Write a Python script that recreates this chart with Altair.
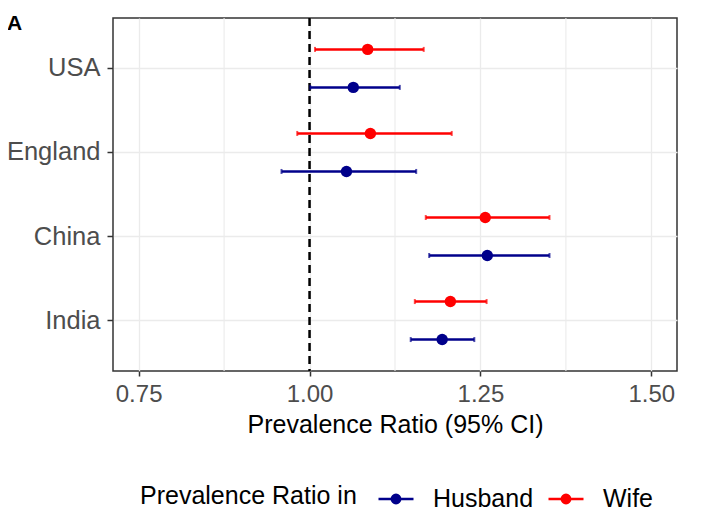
import altair as alt
import pandas as pd

countries = ["USA", "England", "China", "India"]
groups = ["Husband", "Wife"]
wife_pr = [1.085, 1.089, 1.257, 1.206]
wife_lo = [1.008, 0.982, 1.170, 1.154]
wife_hi = [1.167, 1.208, 1.351, 1.259]
husband_pr = [1.064, 1.054, 1.260, 1.194]
husband_lo = [1.001, 0.959, 1.175, 1.148]
husband_hi = [1.132, 1.156, 1.351, 1.241]
x_ticks = [0.75, 1.00, 1.25, 1.50]
minor_breaks = [0.875, 1.125, 1.375]
reference = [1.0]

rows = []
for i, c in enumerate(countries):
    rows.append(dict(country=c, group="Wife", pr=wife_pr[i], lo=wife_lo[i], hi=wife_hi[i]))
    rows.append(dict(country=c, group="Husband", pr=husband_pr[i], lo=husband_lo[i], hi=husband_hi[i]))
df = pd.DataFrame(rows)
minor_df = pd.DataFrame({"x": minor_breaks})
ref_df = pd.DataFrame({"x": reference})

FONT = "Liberation Sans"
COLORS = ["#00008B", "#FF0000"]
xscale = alt.Scale(domain=[0.7125, 1.5375], nice=False, zero=False)
yscale = alt.Scale(domain=countries, paddingInner=0, paddingOuter=0.1)
offscale = alt.Scale(type="point", domain=["Wife", "Husband"], range=[23, 61], padding=0)

xaxis = alt.Axis(values=x_ticks, format=".2f", title="Prevalence Ratio (95% CI)",
                 grid=True, titlePadding=6, labelPadding=6)
yaxis = alt.Axis(title=None, grid=True, bandPosition=0.5, labelPadding=7,
                 labelFontSize=25.5, tickSize=6)

x_enc = alt.X("pr:Q", scale=xscale, axis=xaxis)
y_enc = alt.Y("country:N", scale=yscale, axis=yaxis, sort=countries)
yoff = alt.YOffset("group:N", scale=offscale)
fill_enc = alt.Fill("group:N", scale=alt.Scale(domain=groups, range=COLORS), legend=None)

minor = alt.Chart(minor_df).mark_rule(color="#EBEBEB", strokeWidth=1.1).encode(
    x=alt.X("x:Q", scale=xscale, axis=xaxis)
)
ref = alt.Chart(ref_df).mark_rule(color="black", strokeWidth=2.5, strokeDash=[8, 5]).encode(
    x=alt.X("x:Q", scale=xscale, axis=xaxis)
)

# legend symbol: a line with a dot made of concentric stroked rings
legend_path = ("M-1,0L1,0"
               "M0.24,0A0.24,0.24,0,1,1,-0.24,0A0.24,0.24,0,1,1,0.24,0"
               "M0.16,0A0.16,0.16,0,1,1,-0.16,0A0.16,0.16,0,1,1,0.16,0"
               "M0.09,0A0.09,0.09,0,1,1,-0.09,0A0.09,0.09,0,1,1,0.09,0"
               "M0.03,0A0.03,0.03,0,1,1,-0.03,0A0.03,0.03,0,1,1,0.03,0")
leg = alt.Legend(
    title="Prevalence Ratio in", orient="none", legendX=27, legendY=462,
    direction="horizontal", titleOrient="left", titleLimit=400,
    titleAnchor="middle", titleBaseline="middle",
    titleFontSize=25, titleFontWeight="normal", titleColor="black", titleFont=FONT,
    labelFontSize=25, labelColor="black", labelFont=FONT,
    symbolType=legend_path, symbolSize=1225, symbolStrokeWidth=2.5,
    titlePadding=20, labelOffset=18, columnPadding=9,
)

base = alt.Chart(df)
bars = base.mark_rule(strokeWidth=2.5).encode(
    x=alt.X("lo:Q", scale=xscale, axis=xaxis),
    x2="hi:Q",
    y=y_enc, yOffset=yoff,
    color=alt.Color("group:N", scale=alt.Scale(domain=groups, range=COLORS), legend=leg),
)
cap_lo = base.mark_tick(thickness=2, size=5).encode(
    x=alt.X("lo:Q", scale=xscale, axis=xaxis), y=y_enc, yOffset=yoff, fill=fill_enc,
)
cap_hi = base.mark_tick(thickness=2, size=5).encode(
    x=alt.X("hi:Q", scale=xscale, axis=xaxis), y=y_enc, yOffset=yoff, fill=fill_enc,
)
points = base.mark_point(filled=True, size=130, opacity=1).encode(
    x=x_enc, y=y_enc, yOffset=yoff, fill=fill_enc,
)

chart = alt.layer(minor, ref, bars, cap_lo, cap_hi, points).properties(
    width=564, height=353,
    autosize=alt.AutoSizeParams(type="none"),
    padding={"left": 105, "top": 10, "right": 18, "bottom": 141},
    title=alt.Title("A", anchor="start", frame="group", dx=-106, dy=17, offset=0,
                    fontSize=21, fontWeight="bold", font=FONT, color="black"),
).configure_view(stroke="#333333", strokeWidth=1.5).configure_axis(
    labelFont=FONT, labelFontSize=24, labelColor="#4D4D4D",
    titleFont=FONT, titleFontSize=25, titleColor="black", titleFontWeight="normal",
    tickColor="#333333", tickSize=5, tickWidth=1.5, domain=False,
    gridColor="#EBEBEB", gridWidth=1.3,
)

chart.save("out.html", embed_options={"renderer": "svg", "actions": False})
